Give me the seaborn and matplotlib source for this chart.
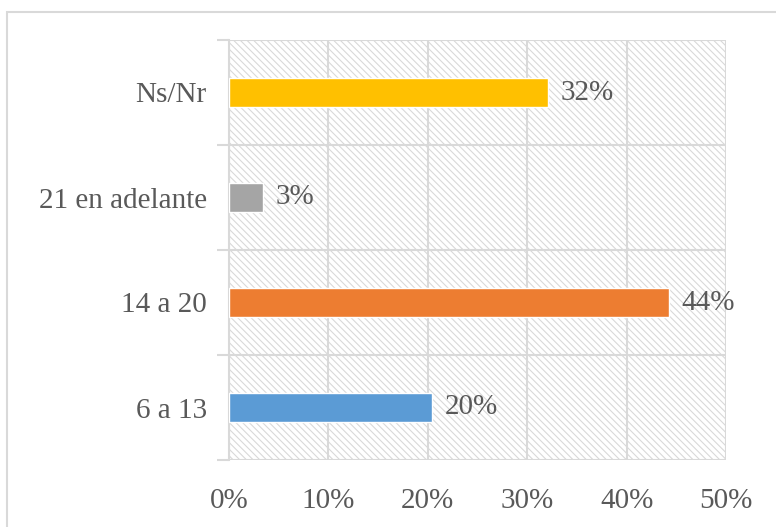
"""Horizontal bar chart of age ranges with hatched plot background."""

import matplotlib
matplotlib.use("Agg")

import matplotlib.pyplot as plt
import numpy as np
import pandas as pd
import seaborn as sns
from matplotlib.patches import Rectangle
from matplotlib.ticker import FixedLocator, PercentFormatter

categories = ["Ns/Nr", "21 en adelante", "14 a 20", "6 a 13"]
shares = [0.321, 0.034, 0.443, 0.204]
bar_colors = ["#FFC000", "#A5A5A5", "#ED7D31", "#5B9BD5"]
x_ticks = [0.0, 0.1, 0.2, 0.3, 0.4, 0.5]

GRID = "#d9d9d9"
TEXT = "#595959"

sns.set_theme(style="white")
plt.rcParams["font.family"] = ["Liberation Serif", "DejaVu Serif"]
plt.rcParams["hatch.linewidth"] = 0.8
plt.rcParams["hatch.color"] = GRID

df = pd.DataFrame({"range": categories, "share": shares})

fig = plt.figure(figsize=(7.76, 5.27), dpi=100)
ax = fig.add_axes([229 / 776, 1 - 460 / 527, 497 / 776, 420 / 527])

# hatched background of the plot area
ax.add_patch(Rectangle((0, 0), 1, 1, transform=ax.transAxes, facecolor="white",
                       edgecolor=GRID, hatch="\\\\\\\\\\", linewidth=0, zorder=0))

sns.barplot(data=df, y="range", x="share", hue="range", order=categories,
            palette=bar_colors, legend=False, width=0.28, saturation=1,
            ax=ax, zorder=3)

for cont in ax.containers:
    ax.bar_label(cont, labels=[f"{v:.0%}" for v in cont.datavalues],
                 padding=9, fontsize=21, color=TEXT)

ax.set_xlim(0, 0.5)
ax.set_ylim(len(categories) - 0.5, -0.5)
ax.xaxis.set_major_locator(FixedLocator(x_ticks))
ax.xaxis.set_major_formatter(PercentFormatter(1.0, decimals=0))
ax.yaxis.set_minor_locator(FixedLocator(np.arange(-0.5, len(categories), 1.0)))

ax.grid(axis="x", which="major", color=GRID, linewidth=1.5, zorder=1)
ax.grid(axis="y", which="minor", color=GRID, linewidth=1.5, zorder=1)
ax.set_axisbelow(True)

ax.tick_params(axis="y", which="major", length=0, pad=16, labelsize=21,
               labelcolor=TEXT)
ax.tick_params(axis="y", which="minor", left=True, length=9, width=1.5,
               color=GRID)
ax.tick_params(axis="x", length=0, pad=20, labelsize=21, labelcolor=TEXT)

for side in ["top", "right", "bottom"]:
    ax.spines[side].set_visible(False)
ax.spines["left"].set_color(GRID)
ax.spines["left"].set_linewidth(1.5)

ax.set_xlabel("")
ax.set_ylabel("")

# outer chart border
fig.patches.append(Rectangle((6.5 / 776, -0.02), 1.0, (527 - 12) / 527 + 0.02,
                             transform=fig.transFigure, fill=False,
                             edgecolor=GRID, linewidth=1.5))

fig.savefig("out.png", dpi=100)
